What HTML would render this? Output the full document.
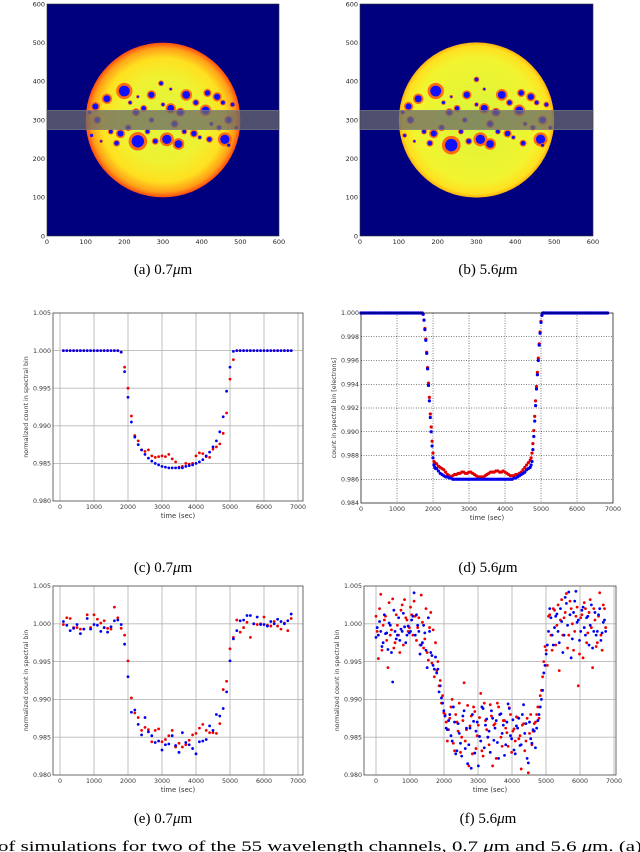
<!DOCTYPE html>
<html><head><meta charset="utf-8">
<style>
html,body{margin:0;padding:0;background:#fff;}
svg{display:block;}
text{font-family:"DejaVu Sans","Liberation Sans",sans-serif;}
.cap{font-family:"Liberation Serif","DejaVu Serif",serif;font-size:15px;fill:#000;}
</style></head>
<body>
<svg id="fig" width="640" height="852" viewBox="0 0 640 852" xmlns="http://www.w3.org/2000/svg">
<defs>
<radialGradient id="sunA" cx="50%" cy="50%" r="50%">
<stop offset="0" stop-color="#e0f53a"/><stop offset="0.55" stop-color="#eef232"/><stop offset="0.8" stop-color="#ffe020"/><stop offset="0.93" stop-color="#ffa018"/><stop offset="1" stop-color="#ff4a10"/>
</radialGradient>
<radialGradient id="sunB" cx="50%" cy="50%" r="50%">
<stop offset="0" stop-color="#d8f53a"/><stop offset="0.8" stop-color="#f2f430"/><stop offset="0.95" stop-color="#ffe020"/><stop offset="1" stop-color="#ffb010"/>
</radialGradient>
</defs>
<g id="layer"></g>
<text class="cap" x="163" y="274" text-anchor="middle">(a) 0.7<tspan font-style="italic">μ</tspan>m</text>
<text class="cap" x="488" y="274" text-anchor="middle">(b) 5.6<tspan font-style="italic">μ</tspan>m</text>
<text class="cap" x="163" y="572" text-anchor="middle">(c) 0.7<tspan font-style="italic">μ</tspan>m</text>
<text class="cap" x="488" y="572" text-anchor="middle">(d) 5.6<tspan font-style="italic">μ</tspan>m</text>
<text class="cap" x="163" y="823" text-anchor="middle">(e) 0.7<tspan font-style="italic">μ</tspan>m</text>
<text class="cap" x="488" y="823" text-anchor="middle">(f) 5.6<tspan font-style="italic">μ</tspan>m</text>
<text class="cap" x="-2" y="851" style="font-size:15px" textLength="644" lengthAdjust="spacingAndGlyphs">of simulations for two of the 55 wavelength channels, 0.7 <tspan font-style="italic">μ</tspan>m and 5.6 <tspan font-style="italic">μ</tspan>m.  (a)</text>
</svg>
<script>
// ---- data ----
const spotsA = [[200,375,14],[155,355,9],[125,335,8],[235,245,16],[310,250,12],[340,238,10],[360,365,10],[270,365,8],[415,370,7],[440,360,8],[460,250,12],[420,250,6],[380,265,7],[320,330,9],[345,320,8],[230,320,7],[180,240,6],[280,245,6],[410,325,10],[470,300,8],[130,300,7],[250,330,6],[385,345,6],[295,395,5],[210,280,6],[445,280,5],[165,270,5],[330,290,7],[190,265,8],[115,260,4],[480,340,5],[490,280,4],[260,270,5],[300,340,4],[395,255,4],[455,345,5],[215,345,4],[140,245,3],[355,270,5],[470,235,4],[110,320,4],[235,360,3],[425,290,4],[320,380,3],[270,300,5]];
const spotsB = [[195,375,14],[150,355,9],[125,335,8],[235,235,16],[310,250,12],[335,238,10],[365,365,10],[275,365,8],[415,370,7],[440,360,8],[465,250,12],[420,240,6],[380,265,7],[320,330,9],[350,320,8],[230,320,7],[180,240,6],[280,245,6],[410,325,10],[470,300,8],[130,300,7],[250,330,6],[385,345,6],[300,405,5],[210,280,6],[445,280,5],[165,270,5],[335,290,7],[190,265,8],[115,260,4],[480,340,5],[490,280,4],[260,270,5],[300,340,4],[395,255,4],[455,345,5],[215,345,4],[140,245,3],[355,270,5],[470,235,4],[110,320,4],[235,360,3],[425,290,4],[320,380,3],[270,300,5]];

const tC = [100,200,300,400,500,600,700,800,900,1000,1100,1200,1300,1400,1500,1600,1700,1800,1900,2000,2100,2200,2300,2400,2500,2600,2700,2800,2900,3000,3100,3200,3300,3400,3500,3600,3700,3800,3900,4000,4100,4200,4300,4400,4500,4600,4700,4800,4900,5000,5100,5200,5300,5400,5500,5600,5700,5800,5900,6000,6100,6200,6300,6400,6500,6600,6700,6800];
const blueC = [1,1,1,1,1,1,1,1,1,1,1,1,1,1,1,1,1,0.9998,0.9972,0.9938,0.9905,0.9885,0.9875,0.9868,0.9862,0.9857,0.9853,0.9850,0.9848,0.9846,0.9845,0.9844,0.9844,0.9844,0.9844,0.9844,0.9846,0.9847,0.9848,0.9850,0.9852,0.9855,0.9860,0.9865,0.9872,0.9880,0.9892,0.9912,0.9946,0.9978,0.9999,1,1,1,1,1,1,1,1,1,1,1,1,1,1,1,1,1];
const redC = [1,1,1,1,1,1,1,1,1,1,1,1,1,1,1,1,1,0.9998,0.9978,0.9950,0.9913,0.9887,0.9880,0.9868,0.9866,0.9868,0.9860,0.9858,0.9859,0.9860,0.9859,0.9862,0.9856,0.9852,0.9845,0.9846,0.9850,0.9849,0.9850,0.9860,0.9864,0.9863,0.9859,0.9858,0.9869,0.9872,0.9876,0.9890,0.9917,0.9962,0.9988,1,1,1,1,1,1,1,1,1,1,1,1,1,1,1,1,1];

const tFlatD1 = [0,50,100,150,200,250,300,350,400,450,500,550,600,650,700,750,800,850,900,950,1000,1050,1100,1150,1200,1250,1300,1350,1400,1450,1500,1550,1600,1650,1700];
const tFlatD2 = [5100,5150,5200,5250,5300,5350,5400,5450,5500,5550,5600,5650,5700,5750,5800,5850,5900,5950,6000,6050,6100,6150,6200,6250,6300,6350,6400,6450,6500,6550,6600,6650,6700,6750,6800,6850];
const tDown = [1725,1750,1775,1800,1825,1850,1875,1900,1925,1950,1975,2000,2025,2050,2075];
const blueDown = [0.9999,0.9994,0.9986,0.9977,0.9966,0.9953,0.9939,0.9926,0.9912,0.9900,0.9888,0.9878,0.9872,0.9870,0.9869];
const redDown = [0.9999,0.9994,0.9987,0.9978,0.9967,0.9954,0.9941,0.9929,0.9915,0.9904,0.9892,0.9882,0.9875,0.9874,0.9873];
const tBottom = [2100,2150,2200,2250,2300,2350,2400,2450,2500,2550,2600,2650,2700,2750,2800,2850,2900,2950,3000,3050,3100,3150,3200,3250,3300,3350,3400,3450,3500,3550,3600,3650,3700,3750,3800,3850,3900,3950,4000,4050,4100,4150,4200,4250,4300,4350,4400,4450,4500,4550,4600,4650,4700];
const blueBottom = [0.9869,0.9867,0.9865,0.9864,0.9863,0.9862,0.9862,0.9861,0.9861,0.9860,0.9860,0.9860,0.9860,0.9860,0.9860,0.9860,0.9860,0.9860,0.9860,0.9860,0.9860,0.9860,0.9860,0.9860,0.9860,0.9860,0.9860,0.9860,0.9860,0.9860,0.9860,0.9860,0.9860,0.9860,0.9860,0.9860,0.9860,0.9860,0.9860,0.9860,0.9860,0.9860,0.9860,0.9861,0.9861,0.9862,0.9863,0.9864,0.9865,0.9866,0.9868,0.9869,0.9870];
const redBottom = [0.9873,0.9871,0.9870,0.9869,0.9868,0.9866,0.9864,0.9863,0.9862,0.9863,0.9864,0.9864,0.9865,0.9865,0.9866,0.9866,0.9865,0.9865,0.9866,0.9866,0.9865,0.9864,0.9863,0.9862,0.9862,0.9862,0.9862,0.9863,0.9864,0.9865,0.9866,0.9866,0.9866,0.9867,0.9867,0.9866,0.9866,0.9867,0.9866,0.9865,0.9864,0.9863,0.9863,0.9863,0.9864,0.9864,0.9865,0.9866,0.9868,0.9870,0.9872,0.9874,0.9876];
const tUp = [4725,4750,4775,4800,4825,4850,4875,4900,4925,4950,4975,5000,5025,5050,5075];
const blueUp = [0.9872,0.9875,0.9885,0.9896,0.9909,0.9922,0.9936,0.9948,0.9960,0.9973,0.9983,0.9992,0.9998,1,1];
const redUp = [0.9878,0.9882,0.9890,0.9901,0.9913,0.9926,0.9938,0.9950,0.9962,0.9974,0.9984,0.9993,0.9998,1,1];

const blueE = [1.0003,0.9998,0.9991,0.9994,0.9999,0.9987,0.9993,1.0007,0.9993,0.9999,0.9998,0.9990,0.9995,0.9989,0.9996,1.0004,1.0005,0.9999,0.9973,0.9930,0.9883,0.9886,0.9867,0.9853,0.9876,0.9857,0.9852,0.9843,0.9845,0.9833,0.9840,0.9841,0.9852,0.9839,0.9830,0.9856,0.9843,0.9840,0.9835,0.9828,0.9844,0.9845,0.9847,0.9865,0.9859,0.9880,0.9878,0.9888,0.9910,0.9951,0.9980,0.9991,1.0004,1.0005,1.0011,1.0011,1.0000,1.0009,0.9999,0.9999,0.9997,1.0003,1.0000,1.0006,1.0003,1.0000,1.0004,1.0013];
const redE = [0.9999,1.0008,1.0007,0.9995,0.9995,0.9993,0.9993,1.0012,0.9995,1.0012,1.0006,1.0001,1.0004,0.9994,0.9993,1.0022,1.0008,0.9994,0.9985,0.9951,0.9902,0.9882,0.9876,0.9859,0.9863,0.9860,0.9844,0.9859,0.9861,0.9844,0.9847,0.9852,0.9859,0.9837,0.9842,0.9837,0.9840,0.9846,0.9853,0.9855,0.9862,0.9867,0.9859,0.9856,0.9856,0.9855,0.9868,0.9913,0.9924,0.9967,0.9982,1.0005,0.9989,0.9995,1.0002,0.9982,1.0000,0.9999,1.0000,1.0009,0.9998,0.9997,1.0003,0.9997,0.9993,1.0001,0.9991,1.0007];

const stepF = 70;
const blueF = [0.9982,0.9985,0.9990,0.9975,0.9987,0.9966,0.9998,0.9923,0.9990,0.9985,0.9978,0.9990,0.9996,0.9985,0.9988,1.0005,1.0041,1.0012,0.9990,0.9972,0.9998,0.9965,1.0008,0.9962,0.9945,
0.9956,0.9940,0.9918,0.9895,0.9878,0.9860,
0.9880,0.9845,0.9870,0.9832,0.9855,0.9825,0.9885,0.9862,0.9840,0.9809,0.9871,0.9858,0.9812,0.9845,0.9888,0.9866,0.9850,0.9830,0.9875,0.9862,0.9843,0.9880,0.9855,0.9826,0.9870,0.9888,0.9848,0.9833,0.9865,0.9875,0.9840,0.9893,0.9868,0.9816,0.9848,0.9860,0.9836,
0.9872,0.9890,0.9912,0.9945,0.9972,1.0020,0.9985,0.9995,1.0013,0.9975,1.0003,0.9985,1.0027,1.0042,0.9955,1.0015,1.0043,1.0005,0.9990,1.0022,0.9985,1.0010,0.9998,0.9968,1.0015,0.9990,1.0020,0.9988,1.0005];
const redF = [1.0010,0.9954,1.0039,0.9998,1.0010,0.9942,0.9985,1.0033,0.9975,0.9998,0.9962,1.0025,1.0032,1.0005,0.9995,1.0012,1.0030,0.9978,1.0008,1.0038,0.9968,1.0020,0.9952,1.0015,0.9992,
0.9975,0.9950,0.9925,0.9905,0.9880,0.9845,
0.9875,0.9900,0.9832,0.9870,0.9895,0.9850,0.9922,0.9860,0.9812,0.9878,0.9890,0.9835,0.9866,0.9908,0.9825,0.9872,0.9850,0.9893,0.9812,0.9868,0.9895,0.9880,0.9838,0.9872,0.9856,0.9889,0.9830,0.9861,0.9877,0.9848,0.9808,0.9868,0.9845,0.9803,0.9880,0.9858,0.9870,
0.9890,0.9905,0.9930,0.9970,0.9945,1.0012,0.9965,1.0018,0.9998,0.9938,1.0032,1.0008,1.0040,0.9985,1.0020,0.9965,1.0010,0.9918,1.0008,0.9955,1.0020,0.9988,1.0032,0.9942,1.0005,0.9975,1.0041,0.9965,1.0020];
const blueF2 = [0.9995,1.0003,0.9970,1.0012,0.9988,1.0001,0.9962,1.0018,0.9980,1.0008,0.9993,1.0014,0.9975,0.9997,0.9990,1.0010,0.9985,0.9998,0.9960,0.9975,0.9988,0.9942,0.9990,0.9958,0.9940,
0.9935,0.9910,0.9902,0.9885,0.9862,0.9872,
0.9852,0.9890,0.9828,0.9868,0.9842,0.9878,0.9835,0.9815,0.9862,0.9880,0.9829,0.9870,0.9851,0.9890,0.9836,0.9874,0.9858,0.9885,0.9846,0.9872,0.9822,0.9881,0.9866,0.9840,0.9894,0.9852,0.9873,0.9828,0.9862,0.9839,0.9880,0.9855,0.9822,0.9870,0.9842,0.9858,0.9862,
0.9880,0.9900,0.9935,0.9960,0.9990,1.0008,0.9972,1.0010,0.9990,1.0020,0.9962,1.0035,0.9998,1.0012,0.9980,1.0030,1.0002,0.9978,1.0018,0.9995,1.0008,0.9972,1.0025,0.9990,0.9985,1.0012,0.9978,1.0002,0.9990];
const redF2 = [0.9990,1.0020,0.9965,1.0005,0.9978,1.0028,0.9992,0.9968,1.0012,0.9985,1.0018,0.9972,1.0008,0.9990,1.0022,0.9985,1.0010,0.9995,0.9972,1.0002,0.9980,0.9962,0.9995,0.9948,0.9930,
0.9938,0.9918,0.9895,0.9882,0.9870,0.9860,
0.9890,0.9842,0.9880,0.9858,0.9830,0.9872,0.9845,0.9892,0.9865,0.9828,0.9884,0.9852,0.9876,0.9832,0.9895,0.9860,0.9840,0.9878,0.9866,0.9822,0.9890,0.9850,0.9872,0.9862,0.9838,0.9880,0.9858,0.9845,0.9876,0.9852,0.9866,0.9832,0.9875,0.9855,0.9840,0.9868,0.9880,
0.9875,0.9912,0.9950,0.9965,1.0010,0.9985,1.0020,0.9972,1.0025,1.0005,0.9985,1.0015,0.9968,1.0030,1.0000,0.9990,1.0022,0.9960,1.0012,1.0028,0.9975,1.0015,0.9995,1.0020,0.9970,1.0010,0.9985,1.0025,0.9995];

const xTicks7k = [0,1000,2000,3000,4000,5000,6000,7000];
const yTicksCE = [0.980,0.985,0.990,0.995,1.000,1.005];
const yTicksD = [0.984,0.986,0.988,0.990,0.992,0.994,0.996,0.998,1.000];
const imgTicks = [0,100,200,300,400,500,600];

// ---- drawing ----
const NS = "http://www.w3.org/2000/svg";
const layer = document.getElementById('layer');
function mk(tag, attrs, parent) {
  const e = document.createElementNS(NS, tag);
  for (const k in attrs) e.setAttribute(k, attrs[k]);
  (parent || layer).appendChild(e);
  return e;
}
function scale(d0, d1, r0, r1) { return v => r0 + (v - d0) / (d1 - d0) * (r1 - r0); }

function drawImage(id, x0, x1, y0, y1, grad, spots) {
  const g = mk('g', {});
  
  
  const sx = scale(0, 600, x0, x1), sy = scale(0, 600, y1, y0);
  const k = (x1 - x0) / 600;
  const clipId = 'clip' + id;
  const cp = mk('clipPath', {id: clipId}, g);
  mk('circle', {cx: sx(300), cy: sy(300), r: 200 * k}, cp);
  mk('rect', {x: x0, y: y0, width: x1 - x0, height: y1 - y0, fill: '#00007f'}, g);
  mk('circle', {cx: sx(300), cy: sy(300), r: 200 * k, fill: 'url(#' + grad + ')'}, g);
  const sg = mk('g', {'clip-path': 'url(#' + clipId + ')'}, g);
  for (const s of spots) {
    const c1 = mk('circle', {cx: sx(s[0]), cy: sy(s[1]), r: s[2] * k * 1.5, fill: '#ff6a10'}, sg);
    
    
    const c2 = mk('circle', {cx: sx(s[0]), cy: sy(s[1]), r: s[2] * k, fill: '#1010ff'}, sg);
    
    
  }
  const band = mk('rect', {x: x0, y: sy(325), width: x1 - x0, height: sy(275) - sy(325), fill: '#6a6a6a', 'fill-opacity': 0.75, stroke: '#888', 'stroke-width': 0.5});
  g.appendChild(band);
  
  
  mk('rect', {x: x0, y: y0, width: x1 - x0, height: y1 - y0, fill: 'none', stroke: '#333', 'stroke-width': 0.6}, g);
  for (const t of imgTicks) {
    mk('text', {x: sx(t), y: y1 + 8, 'font-size': 6.5, 'text-anchor': 'middle', fill: '#222'}, g).textContent = t;
    mk('text', {x: x0 - 2, y: sy(t) + 2.3, 'font-size': 6.5, 'text-anchor': 'end', fill: '#222'}, g).textContent = t;
  }
}

function drawChart(id, box, xd, yd, xticks, yticks, ylabel, dotted, yfmt, series) {
  const g = mk('g', {});
  
  
  const [fx0, fx1, fy0, fy1] = box;
  const sx = scale(xd[0], xd[1], xd[2], xd[3]);
  const sy = scale(yd[0], yd[1], fy1, fy0);
  const grid = mk('g', {}, g);
  
  
  const gs = dotted ? {stroke: '#000', 'stroke-width': 0.5, 'stroke-dasharray': '1,1.5'} : {stroke: '#b8b8b8', 'stroke-width': 0.9};
  for (const t of xticks) {
    const x = sx(t);
    if (x > fx0 + 1 && x < fx1 - 1) mk('line', Object.assign({x1: x, x2: x, y1: fy0, y2: fy1}, gs), grid);
    const tl = mk('text', {x: x, y: fy1 + 8, 'font-size': 6.3, 'text-anchor': 'middle', fill: '#333'}, g);
    tl.textContent = t;
    
    
  }
  for (const t of yticks) {
    const y = sy(t);
    if (y > fy0 + 1 && y < fy1 - 1) mk('line', Object.assign({x1: fx0, x2: fx1, y1: y, y2: y}, gs), grid);
    const tl = mk('text', {x: fx0 - 2, y: y + 2.2, 'font-size': 6.3, 'text-anchor': 'end', fill: '#333'}, g);
    tl.textContent = t.toFixed(yfmt);
    
    
  }
  const cid = 'cc' + id;
  const cp = mk('clipPath', {id: cid}, g);
  mk('rect', {x: fx0 - 2, y: fy0 - 2, width: fx1 - fx0 + 4, height: fy1 - fy0 + 4}, cp);
  const pts = mk('g', {'clip-path': 'url(#' + cid + ')'}, g);
  for (const s of series) {
    const n = Math.min(s.t.length, s.v.length);
    for (let i = 0; i < n; i++) {
      const c = mk('circle', {cx: sx(s.t[i]), cy: sy(s.v[i]), r: s.r, fill: s.color}, pts);
      
      
    }
  }
  const fr = mk('rect', {x: fx0, y: fy0, width: fx1 - fx0, height: fy1 - fy0, fill: 'none', stroke: dotted ? '#000' : '#444', 'stroke-width': dotted ? 0.7 : 0.8}, g);
  
  
  const xl = mk('text', {x: (fx0 + fx1) / 2, y: fy1 + 17, 'font-size': 6.8, 'text-anchor': 'middle', fill: '#333'}, g);
  xl.textContent = 'time (sec)';
  
  
  const yx = fx0 - 25, yy = (fy0 + fy1) / 2;
  const yl = mk('text', {x: yx, y: yy, 'font-size': 6.3, 'text-anchor': 'middle', fill: '#333', transform: 'rotate(-90 ' + yx + ' ' + yy + ')'}, g);
  yl.textContent = ylabel;
  
  
}

drawImage('a', 47, 279, 4, 236, 'sunA', spotsA);
drawImage('b', 360, 593, 4, 236, 'sunB', spotsB);

drawChart('c', [53, 303, 313, 501], [0, 7000, 60, 298], [0.980, 1.005], xTicks7k, yTicksCE, 'normalized count in spectral bin', false, 3, [
  {t: tC, v: redC, color: '#f00000', r: 1.4, name: 'red-c'},
  {t: tC, v: blueC, color: '#0000f0', r: 1.4, name: 'blue-c'}]);

const tFlatAll = tFlatD1.concat(tFlatD2);
const flatVals = tFlatAll.map(() => 1.0);
drawChart('d', [361, 613, 313, 503], [0, 7000, 361, 613], [0.984, 1.000], xTicks7k, yTicksD, 'count in spectral bin [electrons]', true, 3, [
  {t: tFlatAll, v: flatVals, color: '#e00000', r: 1.6, name: 'red-d-flat'},
  {t: tDown, v: redDown, color: '#e00000', r: 1.6, name: 'red-d'},
  {t: tBottom, v: redBottom, color: '#e00000', r: 1.6, name: 'red-d'},
  {t: tUp, v: redUp, color: '#e00000', r: 1.6, name: 'red-d'},
  {t: tDown, v: blueDown, color: '#0000ee', r: 1.6, name: 'blue-d'},
  {t: tBottom, v: blueBottom, color: '#0000ee', r: 1.6, name: 'blue-d'},
  {t: tUp, v: blueUp, color: '#0000ee', r: 1.6, name: 'blue-d'},
  {t: tFlatAll, v: flatVals, color: '#0000ee', r: 1.6, name: 'blue-d-flat'}]);

drawChart('e', [53, 303, 586, 775], [0, 7000, 60, 298], [0.980, 1.005], xTicks7k, yTicksCE, 'normalized count in spectral bin', false, 3, [
  {t: tC, v: redE, color: '#f00000', r: 1.4, name: 'red-e'},
  {t: tC, v: blueE, color: '#0000f0', r: 1.4, name: 'blue-e'}]);

const tF = blueF.map((_, i) => i * stepF);
const tF2 = blueF2.map((_, i) => i * stepF + 35);
drawChart('f', [364, 616, 586, 775], [0, 7000, 376, 614], [0.980, 1.005], xTicks7k, yTicksCE, 'normalized count in spectral bin', false, 3, [
  {t: tF, v: redF, color: '#f00000', r: 1.4, name: 'red-f'},
  {t: tF2, v: redF2, color: '#f00000', r: 1.4, name: 'red-f'},
  {t: tF, v: blueF, color: '#0000f0', r: 1.4, name: 'blue-f'},
  {t: tF2, v: blueF2, color: '#0000f0', r: 1.4, name: 'blue-f'}]);
</script>
</body></html>
